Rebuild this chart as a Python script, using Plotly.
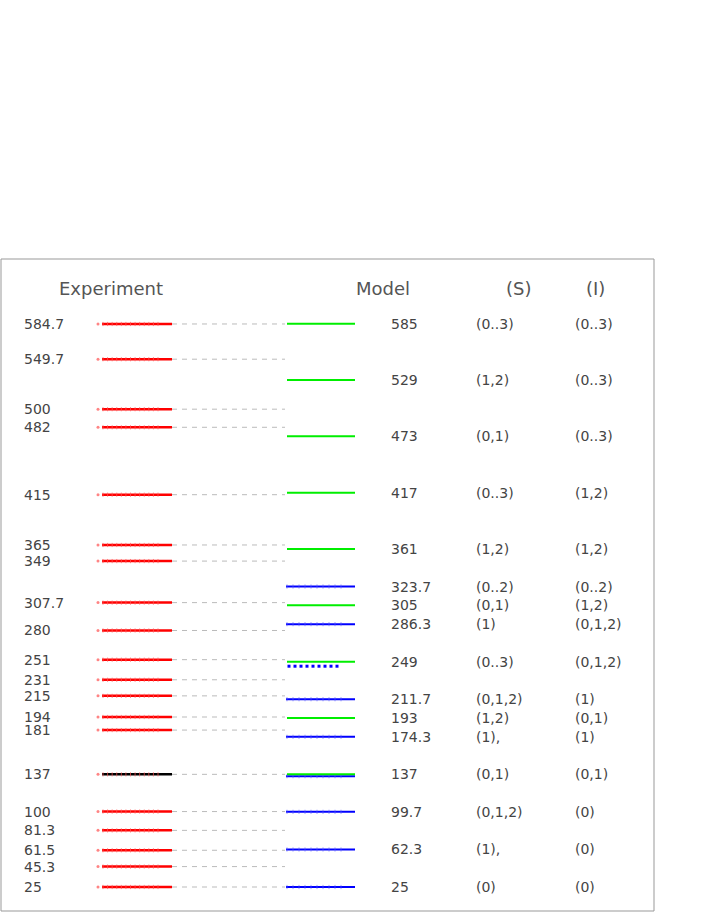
import plotly.graph_objects as go

# experimental levels (left column)
exp_levels = [584.7, 549.7, 500, 482, 415, 365, 349, 307.7, 280, 251,
              231, 215, 194, 181, 137, 100, 81.3, 61.5, 45.3, 25]
exp_labels = ["584.7", "549.7", "500", "482", "415", "365", "349", "307.7", "280", "251",
              "231", "215", "194", "181", "137", "100", "81.3", "61.5", "45.3", "25"]
exp_black = [137]

# model levels (right column): g = green, b = blue
model_levels = [585, 529, 473, 417, 361, 323.7, 305, 286.3, 249, 211.7,
                193, 174.3, 137, 99.7, 62.3, 25]
model_labels = ["585", "529", "473", "417", "361", "323.7", "305", "286.3", "249", "211.7",
                "193", "174.3", "137", "99.7", "62.3", "25"]
model_kind = ["g", "g", "g", "g", "g", "b", "g", "b", "g", "b",
              "g", "b", "g", "b", "b", "b"]
s_labels = ["(0..3)", "(1,2)", "(0,1)", "(0..3)", "(1,2)", "(0..2)", "(0,1)", "(1)", "(0..3)", "(0,1,2)",
            "(1,2)", "(1),", "(0,1)", "(0,1,2)", "(1),", "(0)"]
i_labels = ["(0..3)", "(0..3)", "(0..3)", "(1,2)", "(1,2)", "(0..2)", "(1,2)", "(0,1,2)", "(0,1,2)", "(1)",
            "(0,1)", "(1)", "(0,1)", "(0)", "(0)", "(0)"]
# second (blue) components lying just under a green level
extra_levels = [244.5, 135.2]
extra_style = ["dots", "line"]

headers = ["Experiment", "Model", "(S)", "(I)"]

RED = "#ff0000"
GREEN = "#00ee00"
BLUE = "#0000ff"
FONT = "DejaVu Sans"

fig = go.Figure()


def seg_xy(levels, x0, x1):
    xs, ys = [], []
    for e in levels:
        xs += [x0, x1, None]
        ys += [e, e, None]
    return xs, ys


def ticks_xy(levels, x0, x1, n):
    xs, ys = [], []
    step = (x1 - x0) / (n - 1)
    for e in levels:
        for k in range(n):
            xs.append(x0 + k * step)
            ys.append(e)
    return xs, ys


# grey dashed connectors
xs, ys = seg_xy(exp_levels, 172, 285)
fig.add_trace(go.Scatter(x=xs, y=ys, mode="lines",
                         line=dict(color="#bbbbbb", width=1, dash="5px,5px")))

# experiment lines
red_lv = [e for e in exp_levels if e not in exp_black]
xs, ys = seg_xy(red_lv, 102, 172)
fig.add_trace(go.Scatter(x=xs, y=ys, mode="lines", line=dict(color=RED, width=2.5)))
xs, ys = seg_xy(exp_black, 102, 172)
fig.add_trace(go.Scatter(x=xs, y=ys, mode="lines", line=dict(color="#000000", width=2.5)))
xs, ys = ticks_xy(exp_levels, 103, 158, 13)
fig.add_trace(go.Scatter(x=xs, y=ys, mode="markers",
                         marker=dict(symbol="line-ns", size=3,
                                     line=dict(color="rgba(255,90,90,0.7)", width=1))))
fig.add_trace(go.Scatter(x=[98] * len(exp_levels), y=exp_levels, mode="markers",
                         marker=dict(symbol="circle", size=3, color="rgba(255,80,80,0.7)")))

# model lines
green_lv = [e for e, k in zip(model_levels, model_kind) if k == "g"]
blue_lv = [e for e, k in zip(model_levels, model_kind) if k == "b"]
blue_lv += [e for e, s in zip(extra_levels, extra_style) if s == "line"]
dot_lv = [e for e, s in zip(extra_levels, extra_style) if s == "dots"]

xs, ys = seg_xy(blue_lv, 286, 355)
fig.add_trace(go.Scatter(x=xs, y=ys, mode="lines", line=dict(color=BLUE, width=2)))
xs, ys = ticks_xy(blue_lv, 287, 341, 10)
fig.add_trace(go.Scatter(x=xs, y=ys, mode="markers",
                         marker=dict(symbol="line-ns", size=3,
                                     line=dict(color="rgba(90,90,255,0.6)", width=1))))
xs, ys = seg_xy(green_lv, 287, 355)
fig.add_trace(go.Scatter(x=xs, y=ys, mode="lines", line=dict(color=GREEN, width=2)))
xs, ys = ticks_xy(dot_lv, 289, 337, 9)
fig.add_trace(go.Scatter(x=xs, y=ys, mode="markers",
                         marker=dict(symbol="square", size=3, color=BLUE)))

# texts
txt = dict(showarrow=False, xref="x", yref="y", xanchor="left", yanchor="middle",
           font=dict(family=FONT, size=14, color="#444444"))
for e, lab in zip(exp_levels, exp_labels):
    fig.add_annotation(x=22, y=e, text=lab, **txt)
for e, lab, s, i in zip(model_levels, model_labels, s_labels, i_labels):
    fig.add_annotation(x=389, y=e, text=lab, **txt)
    fig.add_annotation(x=474, y=e, text=s, **txt)
    fig.add_annotation(x=573, y=e, text=i, **txt)

for h, x in zip(headers, [111, 383, 518, 595]):
    fig.add_annotation(x=x, y=0.9555, xref="x", yref="paper", text=h, showarrow=False,
                       xanchor="center", yanchor="middle",
                       font=dict(family=FONT, size=18, color="#555555"))

fig.add_shape(type="rect", xref="paper", yref="paper", x0=0, y0=0, x1=1, y1=1,
              line=dict(color="#999999", width=1))

fig.update_layout(
    width=706, height=913,
    margin=dict(l=1, r=52, t=259, b=2),
    paper_bgcolor="white", plot_bgcolor="white",
    showlegend=False,
    xaxis=dict(range=[1, 654], visible=False, fixedrange=True),
    yaxis=dict(range=[1.14, 649.3], visible=False, fixedrange=True),
)

# drop the browser's default 8px body margin so the figure sits at the page corner
fig.write_html("out.html", config={"displayModeBar": False},
               post_script="document.body.style.margin='0';")
